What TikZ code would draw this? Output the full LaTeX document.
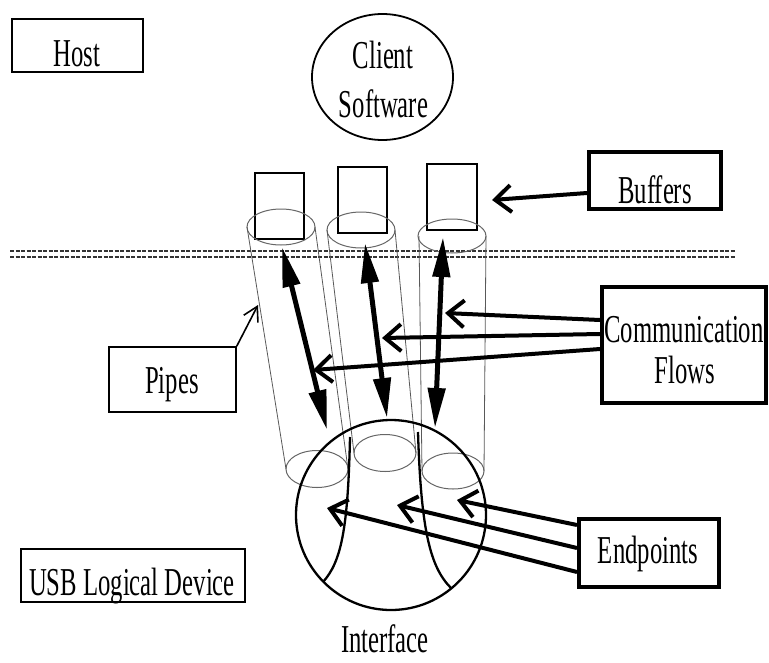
\documentclass[tikz,border=0pt]{standalone}
\usepackage{fontspec}
\setmainfont{Liberation Serif}
\usepackage{graphicx}
\usetikzlibrary{arrows.meta,shapes.geometric}
\newcommand{\tallt}[1]{\scalebox{1}[1.6]{#1}}
\begin{document}
\begin{tikzpicture}[x=1pt,y=-1pt,
  thinbox/.style={draw, line width=1.3pt, inner sep=0pt, rectangle},
  thickbox/.style={draw, line width=4pt, inner sep=0pt, rectangle},
  lbl/.style={font=\fontsize{24.7}{30}\selectfont, inner sep=0pt, anchor=base},
  bufrect/.style={draw, line width=1.2pt},
  pipeln/.style={draw=black!65, line width=0.8pt},
  pipeell/.style={draw=black!60, line width=1pt},
  sepline/.style={draw=black!80, line width=2pt, dash pattern=on 4pt off 1.5pt},
  dblarr/.style={line width=5pt, {Triangle[length=40pt,width=17pt]}-{Triangle[length=40pt,width=17pt]}},
  openarr/.style={line width=4pt, -{Straight Barb[length=16pt,width=27pt]}},
  thinarr/.style={line width=1.6pt, -{Straight Barb[length=14pt,width=16pt]}},
  sphere/.style={draw, line width=2.3pt}
]
\useasboundingbox (0,0) rectangle (769,662);

% boxes
\node[thinbox, minimum width=131pt, minimum height=53pt] (host) at (77.5,45.5) {};
\node[lbl] (hostlbl) at (77,66) {\tallt{Host}};

\node[draw, ellipse, line width=1.8pt, minimum width=141pt, minimum height=126pt, inner sep=0pt] (client) at (382.5,77) {};
\node[lbl] (clientlbl1) at (383,68) {\tallt{Client}};
\node[lbl] (clientlbl2) at (383.5,117) {\tallt{Software}};

\node[thickbox, minimum width=132pt, minimum height=57pt] (buffers) at (655,180.5) {};
\node[lbl] (bufferslbl) at (655,203) {\tallt{Buffers}};

\node[thickbox, minimum width=164pt, minimum height=116pt] (comm) at (684,345) {};
\node[lbl] (commlbl1) at (684,342) {\tallt{Communication}};
\node[lbl] (commlbl2) at (685,383) {\tallt{Flows}};

\node[thinbox, minimum width=127pt, minimum height=65pt] (pipes) at (172.5,379.5) {};
\node[lbl] (pipeslbl) at (172,393) {\tallt{Pipes}};

\node[thinbox, minimum width=224pt, minimum height=53pt] (usb) at (133,575.5) {};
\node[lbl] (usblbl) at (132,595) {\tallt{USB Logical Device}};

\node[thickbox, minimum width=140pt, minimum height=68pt] (endpoints) at (649,553) {};
\node[lbl] (endpointslbl) at (648,563) {\tallt{Endpoints}};

\node[lbl] (ifacelbl) at (385,652) {\tallt{Interface}};

% separator
\draw[sepline] (10,251) -- (735,251);
\draw[sepline] (10,257) -- (735,257);

% buffers
\draw[bufrect] (255,173) rectangle (304,239);
\draw[bufrect] (338,167) rectangle (387,233);
\draw[bufrect] (427,164) rectangle (477,230);

% pipes: top ellipses
\draw[pipeell] (281,227) ellipse [x radius=34, y radius=18];
\draw[pipeell] (361,230) ellipse [x radius=34, y radius=18];
\draw[pipeell] (452,236) ellipse [x radius=34, y radius=17];
% bottom ellipses
\draw[pipeell] (317,469) ellipse [x radius=31, y radius=18.5];
\draw[pipeell] (385,453) ellipse [x radius=31, y radius=18.5];
\draw[pipeell] (453,471) ellipse [x radius=31, y radius=18];
% pipe sides
\draw[pipeln] (247,227) -- (286,469);
\draw[pipeln] (315,227) -- (348,469);
\draw[pipeln] (327,230) -- (354,453);
\draw[pipeln] (395,230) -- (416,453);
\draw[pipeln] (419,236) -- (422,471);
\draw[pipeln] (486,236) -- (484,471);

% interface sphere
\node[draw, circle, line width=2.3pt, minimum size=190pt, inner sep=0pt] (iface) at (391,515) {};
\draw[sphere] (350,437) .. controls (348,530) and (341,562) .. (323,582);
\draw[sphere] (418,432) .. controls (421,530) and (430,567) .. (451,588);

% communication flows (double arrows)
\coordinate (a1t) at (282,247);
\coordinate (a1b) at (327,430);
\coordinate (a2t) at (365,243);
\coordinate (a2b) at (387,418);
\coordinate (a3t) at (443,237);
\coordinate (a3b) at (435,428);
\draw[dblarr] (a1t) -- (a1b);
\draw[dblarr] (a2t) -- (a2b);
\draw[dblarr] (a3t) -- (a3b);

% label arrows
\coordinate (buftip) at (492,200);
\draw[openarr] (buffers.west |- 0,193) -- (buftip);

\coordinate (cf1) at (445,313);
\coordinate (cf2) at (382,338);
\coordinate (cf3) at (313,370);
\draw[openarr] (comm.west |- 0,320) -- (cf1);
\draw[openarr] (comm.west |- 0,334) -- (cf2);
\draw[openarr] (comm.west |- 0,349) -- (cf3);

\coordinate (ep1) at (457,500);
\coordinate (ep2) at (397,505);
\coordinate (ep3) at (327,508);
\draw[openarr] (endpoints.west |- 0,525) -- (ep1);
\draw[openarr] (endpoints.west |- 0,548) -- (ep2);
\draw[openarr] (endpoints.west |- 0,572) -- (ep3);

\coordinate (pipetip) at (258,305);
\draw[thinarr] (pipes.north east) -- (pipetip);
\end{tikzpicture}
\end{document}
